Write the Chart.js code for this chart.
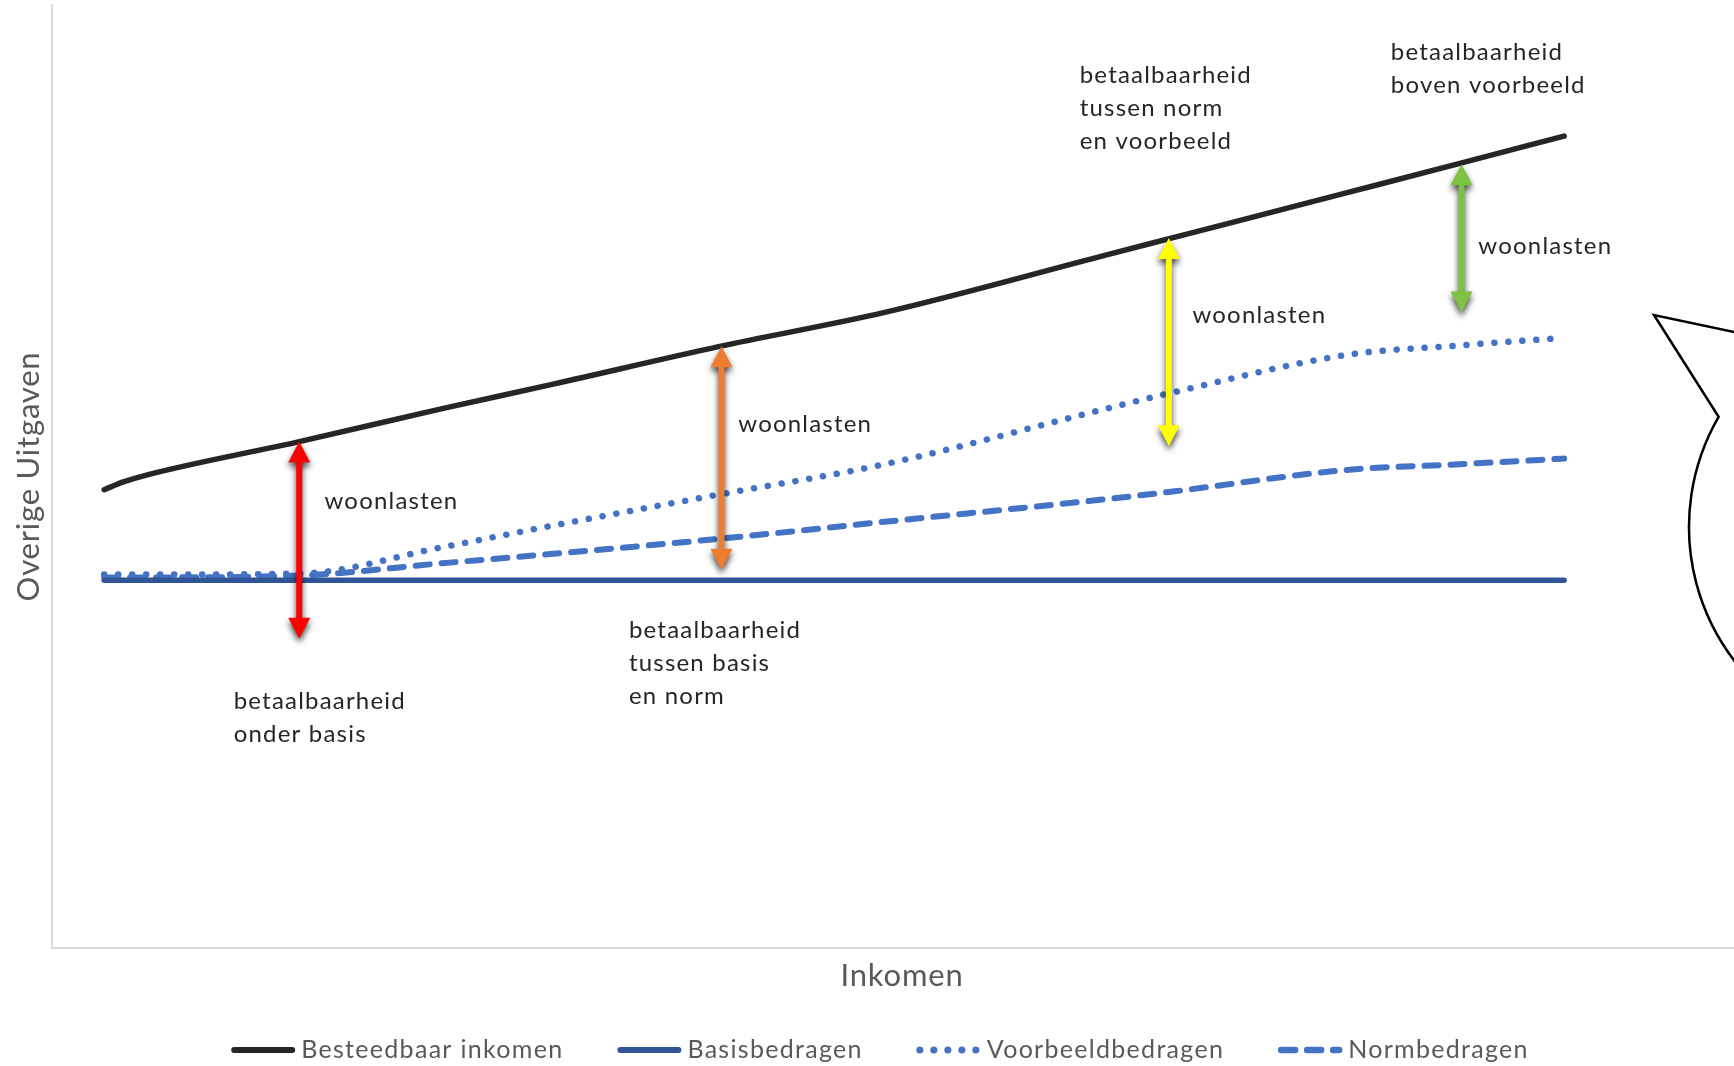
<!DOCTYPE html>
<html>
<head>
<meta charset="utf-8">
<script src="https://cdn.jsdelivr.net/npm/chart.js@4/dist/chart.umd.min.js"></script>
<style>
  html, body { margin: 0; padding: 0; background: #ffffff; }
  #wrap { width: 1734px; height: 1066px; }
</style>
</head>
<body>
<div id="wrap"><canvas id="c" width="1734" height="1066"></canvas></div>
<script>
// ---- data (income on x, spending on y, arbitrary units) ----
const incomes      = [3.1, 4.2, 5.5, 14.7, 23.2, 29.8, 39.7, 49.5, 62.7, 66.6, 77.0, 83.7, 89.9];
const besteedbaar  = [48.6, 49.4, 50.1, 53.7, 57.2, 59.8, 63.8, 67.4, 73.5, 75.3, 80.1, 83.2, 86.1];
const basis        = [39.0, 39.0, 39.0, 39.0, 39.0, 39.0, 39.0, 39.0, 39.0, 39.0, 39.0, 39.0, 39.0];
const voorbeeld    = [39.6, 39.6, 39.6, 39.7, 42.5, 44.8, 48.1, 51.3, 57.2, 58.9, 62.9, 63.9, 64.7];
const norm         = [39.3, 39.3, 39.3, 39.5, 40.8, 41.8, 43.4, 45.2, 47.6, 48.4, 50.7, 51.3, 51.9];
const seriesNames  = ['Besteedbaar inkomen', 'Basisbedragen', 'Voorbeeldbedragen', 'Normbedragen'];

// annotation arrows (income, top, bottom in data units)
const arrowX      = [14.7, 39.8, 66.4, 83.8];
const arrowTop    = [53.7, 63.8, 75.3, 83.1];
const arrowBottom = [32.8, 40.1, 53.2, 67.4];
const arrowColors = ['#FF0000', '#ED7D31', '#FFFF00', '#7DC242'];

// annotation texts
const noteTexts = [
  ['woonlasten'],
  ['betaalbaarheid', 'onder basis'],
  ['woonlasten'],
  ['betaalbaarheid', 'tussen basis', 'en norm'],
  ['woonlasten'],
  ['betaalbaarheid', 'tussen norm', 'en voorbeeld'],
  ['woonlasten'],
  ['betaalbaarheid', 'boven voorbeeld']
];
const noteX = [16.2, 10.8, 40.8, 34.3, 67.8, 61.1, 84.8, 79.6];
const noteY = [47.4, 26.2, 55.5, 33.7, 67.1, 92.5, 74.4, 95.0];

const xTitle = 'Inkomen';
const yTitle = 'Overige Uitgaven';

function pts(arr) { return arr.map((v, i) => ({ x: incomes[i], y: v })); }

function drawArrow(ctx, px, yTop, yBot, color) {
  const shaft = 6, headL = 21, headW = 11;
  ctx.save();
  ctx.shadowColor = 'rgba(0,0,0,0.75)';
  ctx.shadowBlur = 6;
  ctx.shadowOffsetY = 4;
  ctx.fillStyle = color;
  ctx.beginPath();
  ctx.moveTo(px, yTop);
  ctx.lineTo(px + headW, yTop + headL);
  ctx.lineTo(px + shaft / 2, yTop + headL);
  ctx.lineTo(px + shaft / 2, yBot - headL);
  ctx.lineTo(px + headW, yBot - headL);
  ctx.lineTo(px, yBot);
  ctx.lineTo(px - headW, yBot - headL);
  ctx.lineTo(px - shaft / 2, yBot - headL);
  ctx.lineTo(px - shaft / 2, yTop + headL);
  ctx.lineTo(px - headW, yTop + headL);
  ctx.closePath();
  ctx.fill();
  ctx.restore();
}

const decor = {
  id: 'decor',
  afterDatasetsDraw(chart) {
    const { ctx, scales: { x, y }, chartArea } = chart;
    // arrows
    arrowX.forEach((v, i) => {
      drawArrow(ctx, x.getPixelForValue(v), y.getPixelForValue(arrowTop[i]), y.getPixelForValue(arrowBottom[i]), arrowColors[i]);
    });
    // notes
    ctx.save();
    ctx.font = '24px Lato';
    ctx.letterSpacing = '1.2px';
    ctx.fillStyle = '#262626';
    ctx.textAlign = 'left';
    ctx.textBaseline = 'middle';
    noteTexts.forEach((lines, i) => {
      const px = x.getPixelForValue(noteX[i]);
      const py = y.getPixelForValue(noteY[i]);
      lines.forEach((t, j) => ctx.fillText(t, px, py + j * 33));
    });
    ctx.restore();

    // speech bubble at right edge
    ctx.save();
    ctx.strokeStyle = '#000000';
    ctx.lineWidth = 2.5;
    ctx.lineJoin = 'miter';
    const cx = 1909, cy = 527, r = 220;
    const a0 = Math.atan2(417 - cy, 1719 - cx);
    ctx.beginPath();
    ctx.moveTo(1900, 315 + (1900 - 1654) * 0.2125);
    ctx.lineTo(1654, 315);
    ctx.lineTo(cx + r * Math.cos(a0), cy + r * Math.sin(a0));
    ctx.arc(cx, cy, r, a0, Math.PI / 2, true);
    ctx.stroke();
    ctx.restore();

    // axis titles
    ctx.save();
    ctx.fillStyle = '#595959';
    ctx.font = '31px Lato';
    ctx.letterSpacing = '0.8px';
    ctx.textAlign = 'center';
    ctx.textBaseline = 'middle';
    ctx.fillText(xTitle, 902, 976);
    ctx.translate(29, (chartArea.top + chartArea.bottom) / 2);
    ctx.rotate(-Math.PI / 2);
    ctx.fillText(yTitle, 0, 0);
    ctx.restore();

    // legend
    ctx.save();
    ctx.font = '25px Lato';
    ctx.letterSpacing = '1.3px';
    const sampleW = 64, gapText = 6, gapItem = 54;
    const widths = chart.data.datasets.map(d => sampleW + gapText + ctx.measureText(d.label).width);
    const total = widths.reduce((a, b) => a + b, 0) + gapItem * (widths.length - 1);
    let lx = 880 - total / 2;
    const ly = 1050;
    chart.data.datasets.forEach((d, i) => {
      ctx.save();
      ctx.strokeStyle = d.borderColor;
      ctx.lineWidth = d.borderWidth + 0.5;
      ctx.lineCap = d.borderCapStyle || 'butt';
      ctx.setLineDash(d.borderDash || []);
      ctx.beginPath();
      ctx.moveTo(lx + 3, ly);
      ctx.lineTo(lx + sampleW - 3, ly);
      ctx.stroke();
      ctx.restore();
      ctx.fillStyle = '#595959';
      ctx.textAlign = 'left';
      ctx.textBaseline = 'middle';
      ctx.fillText(d.label, lx + sampleW + gapText, ly);
      lx += widths[i] + gapItem;
    });
    ctx.restore();
  }
};

new Chart(document.getElementById('c'), {
  type: 'line',
  data: {
    datasets: [
      { label: seriesNames[0], data: pts(besteedbaar), borderColor: '#262626', borderWidth: 5.5, borderCapStyle: 'round', pointRadius: 0, cubicInterpolationMode: 'monotone' },
      { label: seriesNames[1], data: pts(basis), borderColor: '#2F5597', borderWidth: 5.5, borderCapStyle: 'round', pointRadius: 0 },
      { label: seriesNames[2], data: pts(voorbeeld), borderColor: '#4472C4', borderWidth: 6.5, borderCapStyle: 'round', borderDash: [0.1, 13.9], pointRadius: 0, cubicInterpolationMode: 'monotone' },
      { label: seriesNames[3], data: pts(norm), borderColor: '#4472C4', borderWidth: 6, borderCapStyle: 'round', borderDash: [14, 12], pointRadius: 0, cubicInterpolationMode: 'monotone' }
    ]
  },
  options: {
    responsive: false,
    animation: false,
    devicePixelRatio: 1,
    layout: { padding: { left: 52, top: 5, right: 0, bottom: 118 } },
    plugins: { legend: { display: false }, tooltip: { enabled: false } },
    scales: {
      x: {
        type: 'linear', min: 0, max: 100,
        ticks: { display: false },
        grid: { display: false },
        border: { display: true, color: '#D9D9D9', width: 2 },
        afterFit: s => { s.height = 0; }
      },
      y: {
        type: 'linear', min: 0, max: 100,
        ticks: { display: false },
        grid: { display: false },
        border: { display: true, color: '#D9D9D9', width: 2 },
        afterFit: s => { s.width = 0; }
      }
    }
  },
  plugins: [decor]
});
</script>
</body>
</html>
